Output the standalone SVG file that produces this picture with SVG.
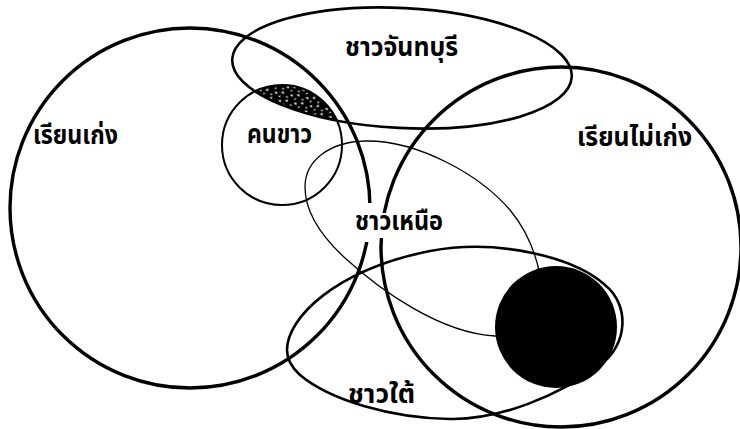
<svg xmlns="http://www.w3.org/2000/svg" width="740" height="429" viewBox="0 0 740 429">
<style>
.ln{fill:none;stroke:#000;stroke-linecap:round;stroke-linejoin:round}
.big{stroke-width:3.4}
.mid{stroke-width:2.6}
.sm{stroke-width:2}
.thin{stroke-width:1.3}
.lbl{font-family:"Noto Sans Thai","Noto Sans","DejaVu Sans",sans-serif;font-weight:bold;font-size:27px;fill:#000}
</style>
<defs>
<pattern id="speckle" width="13" height="9" patternUnits="userSpaceOnUse" patternTransform="rotate(-25)">
<rect width="13" height="9" fill="#000"/>
<path d="M1.5,1.5 l3,0.8 l-1.4,2.2 z M7.5,4.5 l3.4,0.3 l-1.6,2.2 z M4,6.5 l2.2,1 l-2.5,0.8 z M10.5,0.8 l2,1.6 l-2,0.7 z" fill="#fff"/>
</pattern>
<clipPath id="topEl">
<ellipse cx="0" cy="0" rx="170" ry="60" transform="translate(402,68) rotate(3)"/>
</clipPath>
</defs>
<rect width="740" height="429" fill="#fff"/>

<g id="lens">
<circle cx="282" cy="145" r="60" fill="url(#speckle)" clip-path="url(#topEl)"/>
</g>

<g id="set-riankeng">
<circle class="ln big" cx="190" cy="208" r="180"/>
</g>
<g id="set-rianmaikeng">
<circle class="ln big" cx="561" cy="247" r="180"/>
</g>
<g id="set-chanthaburi">
<ellipse class="ln mid" cx="0" cy="0" rx="170" ry="60" transform="translate(402,68) rotate(3)"/>
</g>
<g id="set-khonkhao">
<circle class="ln sm" cx="282" cy="145" r="60"/>
</g>
<g id="set-chaonuea">
<path class="ln thin" d="M305,187 C305,160 330,142 365,141 C418,140 480,175 510,210 C525,228 535,250 540,275 C548,310 530,338 495,336 C440,333 380,290 345,258 C320,235 305,210 305,187 Z"/>
</g>
<g id="set-chaotai">
<path class="ln mid" d="M287,350 C287,318 335,270 430,251 C500,238 575,258 605,285 C630,305 628,345 600,365 C560,395 500,420 450,419 C390,418 330,400 300,375 C290,366 287,358 287,350 Z"/>
</g>
<g id="dark">
<circle cx="556" cy="327" r="61" fill="#000"/>
</g>

<g id="labels">
<polygon points="356,203 378,203 378,213 446,213 446,238 378,238 378,242 356,242" fill="#fff"/>
<text class="lbl" x="33" y="144" textLength="85" lengthAdjust="spacingAndGlyphs">เรียนเก่ง</text>
<text class="lbl" x="247" y="143" textLength="65" lengthAdjust="spacingAndGlyphs">คนขาว</text>
<text class="lbl" x="345" y="56" textLength="113" lengthAdjust="spacingAndGlyphs">ชาวจันทบุรี</text>
<text class="lbl" x="577" y="146" textLength="115" lengthAdjust="spacingAndGlyphs">เรียนไม่เก่ง</text>
<text class="lbl" x="355" y="230" textLength="88" lengthAdjust="spacingAndGlyphs">ชาวเหนือ</text>
<text class="lbl" x="348" y="403" textLength="67" lengthAdjust="spacingAndGlyphs">ชาวใต้</text>
</g>
</svg>
